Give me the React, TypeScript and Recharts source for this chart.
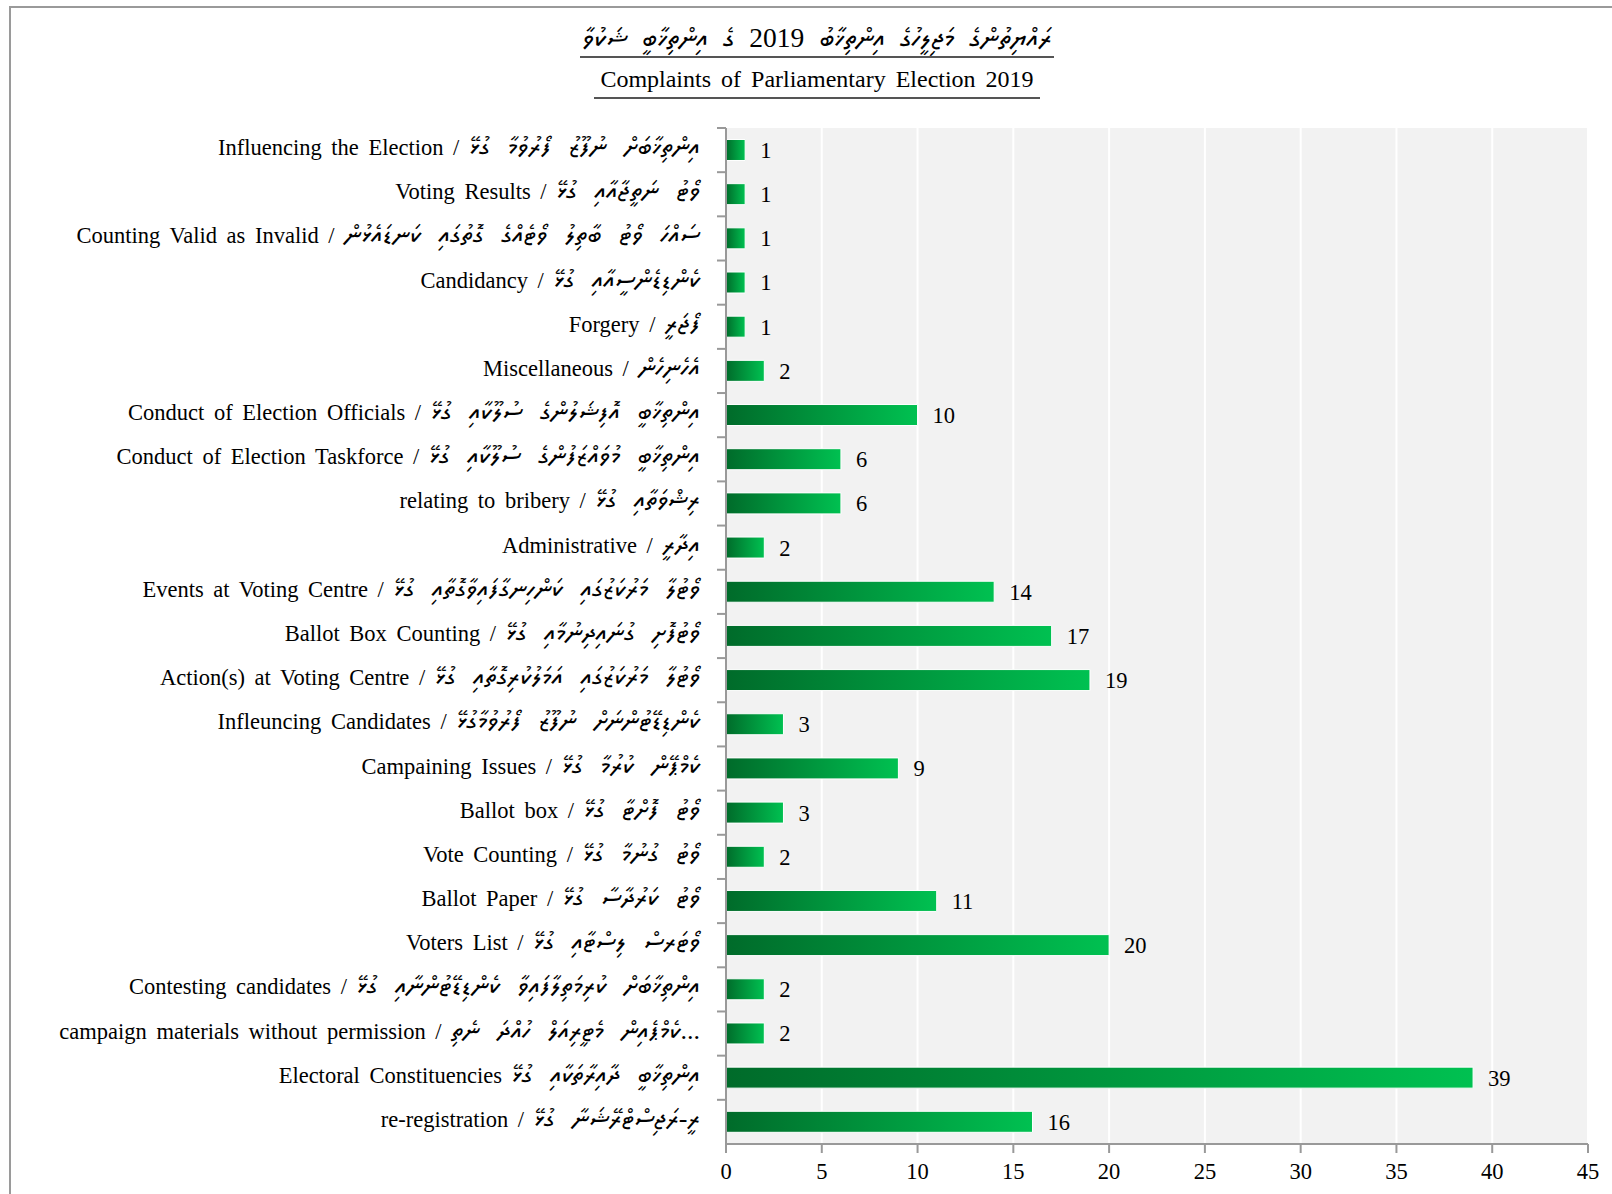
import React from "react";
import { BarChart, Bar, XAxis, YAxis, CartesianGrid, LabelList } from "recharts";

const titleDv = "ރައްޔިތުންގެ މަޖިލީހުގެ އިންތިޚާބު 2019 ގެ އިންތިޚާބީ ޝަކުވާ";
const titleEn = "Complaints of Parliamentary Election 2019";

const categoriesEn = [
  "Influencing the Election /",
  "Voting Results /",
  "Counting Valid as Invalid /",
  "Candidancy /",
  "Forgery /",
  "Miscellaneous /",
  "Conduct of Election Officials /",
  "Conduct of Election Taskforce /",
  "relating to bribery /",
  "Administrative /",
  "Events at Voting Centre /",
  "Ballot Box Counting /",
  "Action(s) at Voting Centre /",
  "Infleuncing Candidates /",
  "Campaining Issues /",
  "Ballot box /",
  "Vote Counting /",
  "Ballot Paper /",
  "Voters List /",
  "Contesting candidates /",
  "campaign materials without permission /",
  "Electoral Constituencies",
  "re-registration /",
];

const categoriesDv = [
  "އިންތިޚާބަށް ނުފޫޒު ފޯރުވުމާ ގުޅޭ",
  "ވޯޓު ނަތީޖާއާއި ގުޅޭ",
  "ސައްހަ ވޯޓު ބާތިލު ވޯޓެއްގެ ގޮތުގައި ކަނޑައެޅުން",
  "ކެންޑިޑެންސީއާއި ގުޅޭ",
  "ފޯޖަރީ",
  "އެހެނިހެން",
  "އިންތިޚާބީ އޮފިޝަލުންގެ ސުލޫކާއި ގުޅޭ",
  "އިންތިޚާބީ މުވައްޒަފުންގެ ސުލޫކާއި ގުޅޭ",
  "ރިޝްވަތާއި ގުޅޭ",
  "އިދާރީ",
  "ވޯޓުލާ މަރުކަޒުގައި ކަންހިނގާފައިވާގޮތާއި ގުޅޭ",
  "ވޯޓުފޮށި ގުނައިދިނުމާއި ގުޅޭ",
  "ވޯޓުލާ މަރުކަޒުގައި އަމަލުކުރިގޮތާއި ގުޅޭ",
  "ކެންޑިޑޭޓުންނަށް ނުފޫޒު ފޯރުވުމާގުޅޭ",
  "ކެމްޕޭން ކުރުމާ ގުޅޭ",
  "ވޯޓު ފޮށްޓާ ގުޅޭ",
  "ވޯޓު ގުނުމާ ގުޅޭ",
  "ވޯޓު ކަރުދާސާ ގުޅޭ",
  "ވޯޓަރސް ލިސްޓާއި ގުޅޭ",
  "އިންތިޚާބަށް ކުރިމަތިލާފައިވާ ކެންޑިޑޭޓުންނާއި ގުޅޭ",
  "ކެމްޕެއިން މެޓީރިއަލް ހުއްދަ ނެތި...",
  "އިންތިޚާބީ ދާއިރާތަކާއި ގުޅޭ",
  "ރީ-ރަޖިސްޓްރޭޝަނާ ގުޅޭ",
];

const complaints = [1, 1, 1, 1, 1, 2, 10, 6, 6, 2, 14, 17, 19, 3, 9, 3, 2, 11, 20, 2, 2, 39, 16];

const xTicks = [0, 5, 10, 15, 20, 25, 30, 35, 40, 45];

const data = categoriesEn.map((c, i) => ({
  name: c + " " + categoriesDv[i],
  value: complaints[i],
}));

const SERIF = '"Liberation Serif", "Times New Roman", "Noto Sans Thaana", FreeSerif, serif';

const CHART_TOP = 128;
const X_AXIS_H = 50;
const CHART_H = 1194;
const BAND = (CHART_H - CHART_TOP - X_AXIS_H) / categoriesEn.length;

const CatTick = (props: any) => {
  const { x, y, index } = props;
  return (
    <g>
      <line x1={x - 9} x2={x} y1={y - BAND / 2} y2={y - BAND / 2} stroke="#999" strokeWidth={2} />
      <text
        x={x - 26}
        y={y}
        dy={5}
        textAnchor="end"
        fontFamily={SERIF}
        fontSize={22.5}
        fill="#000"
        style={{ wordSpacing: "4px" }}
      >
        <tspan>{categoriesEn[index] + "  "}</tspan>
        <tspan fontSize={26} style={{ wordSpacing: "11px" }}>{categoriesDv[index]}</tspan>
      </text>
    </g>
  );
};

export default function App() {
  return (
    <div
      style={{
        position: "absolute",
        left: 0,
        top: 0,
        width: 1612,
        height: 1194,
        overflow: "hidden",
        background: "#fff",
      }}
    >
      <div
        style={{
          position: "absolute",
          left: 9,
          top: 6,
          width: 1700,
          height: 1300,
          border: "2px solid #9a9a9a",
          boxSizing: "border-box",
        }}
      />
      <div
        style={{
          position: "absolute",
          left: 580,
          width: 474,
          top: 22,
          textAlign: "center",
          fontFamily: SERIF,
          fontSize: 27.5,
          lineHeight: "32px",
          wordSpacing: "8px",
          borderBottom: "2px solid #555",
          paddingBottom: 2,
          direction: "rtl",
          whiteSpace: "nowrap",
        }}
      >
        {titleDv}
      </div>
      <div
        style={{
          position: "absolute",
          left: 594,
          width: 446,
          top: 64,
          textAlign: "center",
          fontFamily: SERIF,
          fontSize: 24,
          lineHeight: "30px",
          wordSpacing: "4px",
          borderBottom: "2px solid #555",
          paddingBottom: 3,
          whiteSpace: "nowrap",
        }}
      >
        {titleEn}
      </div>
      <div style={{ position: "absolute", left: 0, top: 0 }}>
        <BarChart
          width={1612}
          height={CHART_H}
          data={data}
          layout="vertical"
          margin={{ top: CHART_TOP, right: 24, bottom: 0, left: 0 }}
          barCategoryGap="26%"
        >
          <defs>
            <linearGradient id="barGrad" x1="0" y1="0" x2="1" y2="0">
              <stop offset="0%" stopColor="#006b2a" />
              <stop offset="100%" stopColor="#00c151" />
            </linearGradient>
          </defs>
          <CartesianGrid horizontal={false} stroke="#ffffff" strokeWidth={2} fill="#f2f2f2" />
          <XAxis
            type="number"
            domain={[0, 45]}
            ticks={xTicks}
            interval={0}
            tickLine={{ stroke: "#999", strokeWidth: 2 }}
            tickSize={9}
            tickMargin={10}
            axisLine={{ stroke: "#999", strokeWidth: 2 }}
            tick={{ fontFamily: SERIF, fontSize: 22.5, fill: "#000" }}
            height={X_AXIS_H}
          />
          <YAxis
            type="category"
            dataKey="name"
            width={726}
            interval={0}
            tickLine={false}
            tickSize={0}
            tickMargin={0}
            axisLine={{ stroke: "#999", strokeWidth: 2 }}
            tick={<CatTick />}
          />
          <Bar
            dataKey="value"
            fill="url(#barGrad)"
            stroke="#ffffff"
            strokeWidth={1}
            isAnimationActive={false}
          >
            <LabelList
              dataKey="value"
              position="right"
              offset={15}
              style={{ fontFamily: SERIF, fontSize: 22.5, fill: "#000" }}
            />
          </Bar>
        </BarChart>
      </div>
    </div>
  );
}
